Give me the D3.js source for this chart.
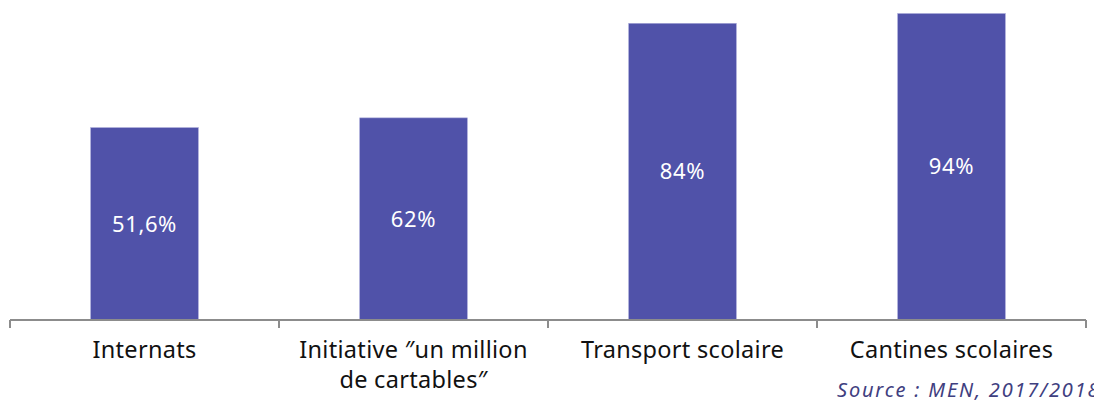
<!DOCTYPE html>
<html>
<head>
<meta charset="utf-8">
<script src="https://cdn.jsdelivr.net/npm/d3@7"></script>
<style>
  html, body { margin: 0; padding: 0; background: #ffffff; }
  svg { display: block; }
</style>
</head>
<body>
<svg id="chart" width="1094" height="401"></svg>
<script>
const categories = ["Internats", "Initiative ″un million de cartables″", "Transport scolaire", "Cantines scolaires"];
const categoryLines = [["Internats"], ["Initiative ″un million", "de cartables″"], ["Transport scolaire"], ["Cantines scolaires"]];
const barValues = [59, 62, 91, 94];
const valueLabels = ["51,6%", "62%", "84%", "94%"];
const sourceText = "Source : MEN, 2017/2018";

const svg = d3.select("#chart");
const font = "'Noto Sans', sans-serif";

const x = d3.scaleBand().domain(categories).range([10, 1086]).paddingInner(0).paddingOuter(0);
const y = d3.scaleLinear().domain([0, 100]).range([320, -6]);
const barW = x.bandwidth() * 0.4;

svg.selectAll("rect.bar").data(categories).enter().append("rect")
  .attr("class", "bar")
  .attr("x", d => x(d) + (x.bandwidth() - barW) / 2)
  .attr("y", (d, i) => y(barValues[i]))
  .attr("width", barW)
  .attr("height", (d, i) => y(0) - y(barValues[i]))
  .attr("fill", "#5052a9")
  .attr("stroke", "#a3a4d6")
  .attr("stroke-width", 0.6);

svg.selectAll("text.val").data(categories).enter().append("text")
  .attr("class", "val")
  .attr("x", d => x(d) + x.bandwidth() / 2)
  .attr("y", (d, i) => (y(barValues[i]) + y(0)) / 2)
  .attr("dy", "0.35em")
  .attr("text-anchor", "middle")
  .attr("fill", "#ffffff")
  .attr("font-family", font)
  .attr("font-size", 22)
  .attr("letter-spacing", 0.6)
  .text((d, i) => valueLabels[i]);

// axis line and ticks at band boundaries
const axisColor = "#8c8c8c";
svg.append("line")
  .attr("x1", 10).attr("x2", 1086)
  .attr("y1", y(0)).attr("y2", y(0))
  .attr("stroke", axisColor).attr("stroke-width", 2);
const tickPos = categories.map(d => x(d)).concat([x.range()[1]]);
svg.selectAll("line.tick").data(tickPos).enter().append("line")
  .attr("class", "tick")
  .attr("x1", d => d).attr("x2", d => d)
  .attr("y1", y(0)).attr("y2", y(0) + 8)
  .attr("stroke", axisColor).attr("stroke-width", 2);

// category labels (one text per line)
categories.forEach((d, i) => {
  categoryLines[i].forEach((line, k) => {
    svg.append("text")
      .attr("class", "cat")
      .attr("x", x(d) + x.bandwidth() / 2)
      .attr("y", 358 + k * 30)
      .attr("text-anchor", "middle")
      .attr("fill", "#111111")
      .attr("font-family", font)
      .attr("font-size", 23.5)
      .attr("letter-spacing", 0.3)
      .text(line);
  });
});

svg.append("text")
  .attr("x", 837)
  .attr("y", 397)
  .attr("fill", "#3f407f")
  .attr("font-family", font)
  .attr("font-style", "italic")
  .attr("font-size", 20)
  .attr("letter-spacing", 1.8)
  .text(sourceText);
</script>
</body>
</html>
